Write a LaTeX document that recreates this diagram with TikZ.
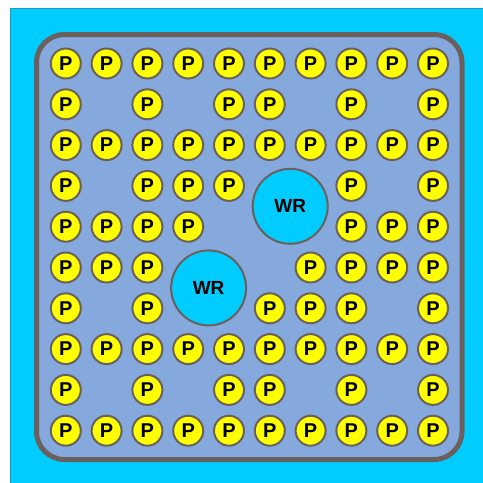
\documentclass[tikz,border=0pt]{standalone}
\usepackage{fontspec}
\setmainfont{Liberation Sans}
\definecolor{skyc}{HTML}{00CCFF}
\definecolor{skyedge}{HTML}{1A9BB8}
\definecolor{plate}{HTML}{85A8DD}
\definecolor{rim}{HTML}{6B605B}
\definecolor{pyellow}{HTML}{FFFF00}
\tikzset{
  pin/.style={circle, draw=rim, line width=2pt, fill=pyellow, minimum size=30pt, inner sep=0pt, font=\fontsize{20}{20}\selectfont\bfseries, text=black},
  wr/.style={circle, draw=rim, line width=2pt, fill=skyc, minimum size=75pt, inner sep=0pt, font=\fontsize{19}{19}\selectfont\bfseries, text=black}
}
\begin{document}
\begin{tikzpicture}[x=1pt,y=-1pt]
\useasboundingbox (0,0) rectangle (483,483);
\fill[white] (0,0) rectangle (483,483);
\fill[skyc] (10,8) rectangle (483,483);
\draw[skyedge, line width=0.8pt] (10.4,483) -- (10.4,8.4) -- (483,8.4);
\draw[rim, fill=plate, line width=5pt, rounded corners=28pt] (36.5,34.5) rectangle (462,459.5);
% rows of P pins: row index / list of columns
\foreach \r/\cols in {1/{1,2,3,4,5,6,7,8,9,10},
                      2/{1,3,5,6,8,10},
                      3/{1,2,3,4,5,6,7,8,9,10},
                      4/{1,3,4,5,8,10},
                      5/{1,2,3,4,8,9,10},
                      6/{1,2,3,7,8,9,10},
                      7/{1,3,6,7,8,10},
                      8/{1,2,3,4,5,6,7,8,9,10},
                      9/{1,3,5,6,8,10},
                      10/{1,2,3,4,5,6,7,8,9,10}}{
  \foreach \c in \cols {
    \node[pin] (p-\r-\c) at ({65.8+40.8*(\c-1)},{63.5+40.8*(\r-1)}) {P};
  }
}
\node[wr] (wr1) at (290.2,206.3) {WR};
\node[wr] (wr2) at (208.6,287.9) {WR};
\end{tikzpicture}
\end{document}
